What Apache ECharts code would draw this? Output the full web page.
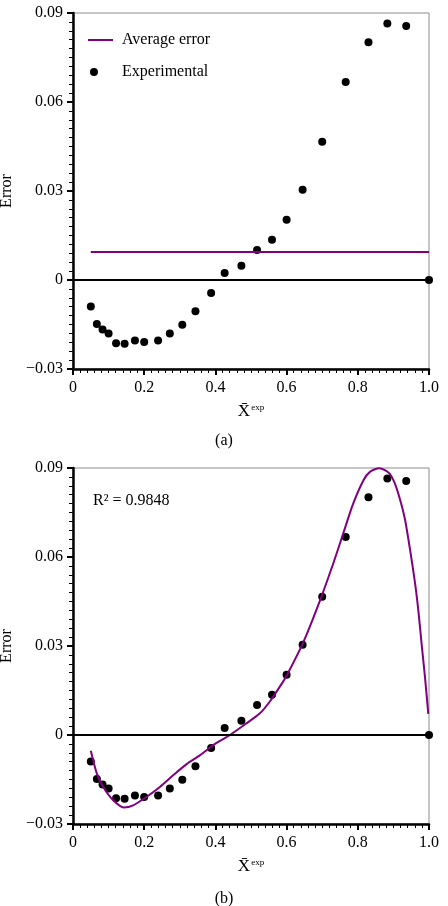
<!DOCTYPE html>
<html>
<head>
<meta charset="utf-8">
<script src="https://cdn.jsdelivr.net/npm/echarts@6/dist/echarts.min.js"></script>
<style>
html,body{margin:0;padding:0;background:#fff;}
#chart{width:448px;height:906px;}
</style>
</head>
<body>
<div id="chart"></div>
<script>
// Experimental error points (same in both panels)
const expX = [0.050, 0.067, 0.083, 0.100, 0.121, 0.145, 0.174, 0.200, 0.239, 0.272, 0.307, 0.344, 0.388, 0.426, 0.473, 0.517, 0.559, 0.600, 0.645, 0.700, 0.766, 0.830, 0.883, 0.936, 1.000];
const expY = [-0.0089, -0.0148, -0.0167, -0.0180, -0.0213, -0.0215, -0.0204, -0.0209, -0.0204, -0.0180, -0.0151, -0.0105, -0.0044, 0.0024, 0.0048, 0.0101, 0.0136, 0.0203, 0.0304, 0.0466, 0.0667, 0.0801, 0.0865, 0.0856, 0.0000];
// Average error line (panel a)
const avgX = [0.050, 1.000];
const avgY = [0.0094, 0.0094];
// Fitted curve (panel b)
const fitX = [0.050, 0.067, 0.085, 0.113, 0.143, 0.169, 0.207, 0.244, 0.282, 0.319, 0.357, 0.394, 0.441, 0.487, 0.525, 0.553, 0.581, 0.600, 0.647, 0.694, 0.731, 0.759, 0.787, 0.816, 0.834, 0.860, 0.876, 0.890, 0.904, 0.919, 0.933, 0.947, 0.961, 0.970, 0.979, 0.989, 0.998];
const fitY = [-0.0053, -0.0130, -0.0175, -0.0220, -0.0244, -0.0237, -0.0208, -0.0175, -0.0135, -0.0098, -0.0068, -0.0034, 0.0000, 0.0039, 0.0073, 0.0113, 0.0163, 0.0200, 0.0313, 0.0454, 0.0578, 0.0679, 0.0780, 0.0859, 0.0887, 0.0899, 0.0893, 0.0880, 0.0848, 0.0792, 0.0724, 0.0623, 0.0510, 0.0420, 0.0310, 0.0192, 0.0071];
// Axis ticks
const xTicks = {min: 0, max: 1, interval: 0.2};
const yTicks = {min: -0.03, max: 0.09, interval: 0.03};
const r2Text = 'R\u00B2 = 0.9848';

const pairs = (xs, ys) => xs.map((x, i) => [x, ys[i]]);
const FONT = '"Liberation Serif", "Times New Roman", serif';
const PURPLE = '#800080';

function xAxisCfg(gridIndex) {
  return {
    type: 'value', gridIndex, min: xTicks.min, max: xTicks.max, interval: xTicks.interval,
    axisLine: {show: true, onZero: false, lineStyle: {color: '#000', width: 2.5}},
    axisTick: {show: true, inside: false, length: 6, lineStyle: {color: '#000', width: 2}},
    minorTick: {show: true, splitNumber: 10, length: 4, lineStyle: {color: '#000', width: 1}},
    splitLine: {show: false},
    axisLabel: {color: '#000', fontFamily: FONT, fontSize: 16, margin: 11,
      formatter: v => v === 0 ? '0' : v.toFixed(1)},
    name: '{x|X\u0304}{e|exp}', nameLocation: 'middle', nameGap: 34,
    nameTextStyle: {color: '#000', fontFamily: FONT, rich: {
      x: {fontSize: 17, fontFamily: FONT, color: '#000'},
      e: {fontSize: 9, fontFamily: FONT, color: '#000', verticalAlign: 'top', padding: [0, 0, 6, 1]}
    }}
  };
}
function yAxisCfg(gridIndex) {
  return {
    type: 'value', gridIndex, min: yTicks.min, max: yTicks.max, interval: yTicks.interval,
    axisLine: {show: true, onZero: false, lineStyle: {color: '#000', width: 2.5}},
    axisTick: {show: true, inside: false, length: 6, lineStyle: {color: '#000', width: 2}},
    minorTick: {show: true, splitNumber: 10, length: 4, lineStyle: {color: '#000', width: 1}},
    splitLine: {show: false},
    axisLabel: {color: '#000', fontFamily: FONT, fontSize: 16, margin: 10,
      formatter: v => {
        const r = Math.round(v * 100) / 100;
        if (r === 0) return '0';
        return (r < 0 ? '\u2212' : '') + Math.abs(r).toFixed(2);
      }},
    name: 'Error', nameLocation: 'middle', nameGap: 57, nameRotate: 90,
    nameTextStyle: {color: '#000', fontFamily: FONT, fontSize: 16}
  };
}
const zeroLine = {
  silent: true, symbol: 'none', animation: false,
  label: {show: false},
  lineStyle: {color: '#000', width: 2, type: 'solid'},
  emphasis: {disabled: true},
  data: [{yAxis: 0}]
};

const option = {
  animation: false,
  backgroundColor: '#fff',
  grid: [
    {left: 73, right: 19, top: 13, height: 356, outerBoundsMode: 'none', containLabel: false, show: true, borderColor: '#8c8c8c', borderWidth: 1, backgroundColor: 'transparent'},
    {left: 73, right: 19, top: 468, height: 356, outerBoundsMode: 'none', containLabel: false, show: true, borderColor: '#8c8c8c', borderWidth: 1, backgroundColor: 'transparent'}
  ],
  xAxis: [xAxisCfg(0), xAxisCfg(1)],
  yAxis: [yAxisCfg(0), yAxisCfg(1)],
  legend: [
    {data: ['Average error'], left: 83, top: 27, itemWidth: 25, itemHeight: 2, icon: 'rect',
      itemStyle: {color: PURPLE},
      textStyle: {fontFamily: FONT, fontSize: 16, color: '#000', padding: [0, 0, 0, 4]}},
    {data: ['Experimental'], left: 85, top: 59, itemWidth: 8, itemHeight: 8, icon: 'circle',
      itemStyle: {color: '#000', opacity: 1},
      textStyle: {fontFamily: FONT, fontSize: 16, color: '#000', padding: [0, 0, 0, 19]}}
  ],
  title: [
    {text: '(a)', left: 'center', top: 428, textStyle: {fontFamily: FONT, fontSize: 16, fontWeight: 'normal', color: '#000'}},
    {text: '(b)', left: 'center', top: 886, textStyle: {fontFamily: FONT, fontSize: 16, fontWeight: 'normal', color: '#000'}}
  ],
  graphic: [
    {type: 'text', left: 93, top: 493, style: {text: r2Text, font: '16px ' + FONT, fill: '#000'}}
  ],
  series: [
    {name: 'Average error', type: 'line', xAxisIndex: 0, yAxisIndex: 0,
      data: pairs(avgX, avgY), symbol: 'none', lineStyle: {color: PURPLE, width: 2}, itemStyle: {color: PURPLE},
      markLine: zeroLine},
    {name: 'Experimental', type: 'scatter', xAxisIndex: 0, yAxisIndex: 0, clip: false,
      data: pairs(expX, expY), symbol: 'circle', symbolSize: 8, itemStyle: {color: '#000', opacity: 1}},
    {name: 'Fitted', type: 'line', xAxisIndex: 1, yAxisIndex: 1,
      data: pairs(fitX, fitY), symbol: 'none', smooth: 0.25, lineStyle: {color: PURPLE, width: 2}, itemStyle: {color: PURPLE},
      markLine: zeroLine},
    {name: 'Experimental data', type: 'scatter', xAxisIndex: 1, yAxisIndex: 1, clip: false,
      data: pairs(expX, expY), symbol: 'circle', symbolSize: 8, itemStyle: {color: '#000', opacity: 1}}
  ]
};
const chart = echarts.init(document.getElementById('chart'), null, {renderer: 'canvas'});
chart.setOption(option);
</script>
</body>
</html>
